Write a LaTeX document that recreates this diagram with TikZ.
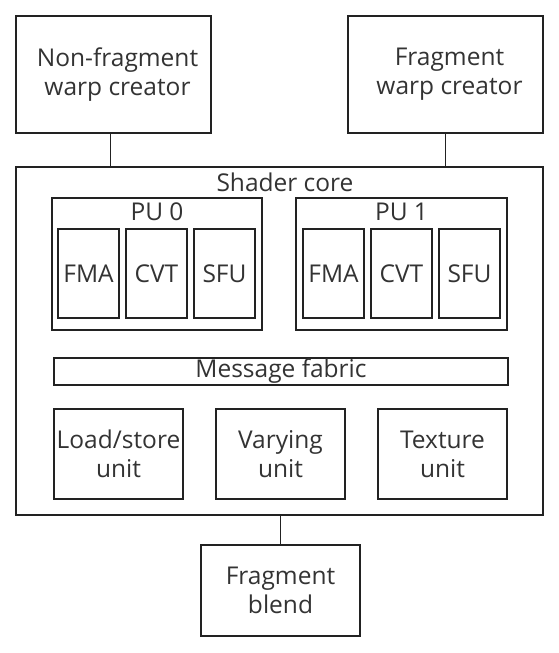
\documentclass[tikz,border=0pt]{standalone}
\usepackage{fontspec}
\setmainfont{Open Sans}
\definecolor{linec}{HTML}{222222}
\definecolor{textc}{HTML}{333333}
\begin{document}
\begin{tikzpicture}[x=1pt,y=-1pt,
  box/.style={draw=linec, line width=1.3pt, rectangle, inner sep=0pt, align=center,
    text=textc, font=\fontsize{24.5}{29}\selectfont},
  lbl/.style={inner sep=0pt, text=textc, font=\fontsize{24.5}{29}\selectfont},
  conn/.style={draw=linec, line width=1.3pt}]
\useasboundingbox (0,0) rectangle (559,653);
% top creators
\node[box, minimum width=195pt, minimum height=117pt] (nf) at (113.5,74.5) {\hspace*{8pt}Non-fragment\\\hspace*{8pt}warp creator};
\node[box, minimum width=195pt, minimum height=117pt] (fw) at (445.5,74.5) {\hspace*{8pt}Fragment\\\hspace*{8pt}warp creator};
% shader core
\node[box, minimum width=527pt, minimum height=348pt] (core) at (279.5,341) {};
\node[lbl] (corelbl) at (285,182) {Shader core};
% PU 0
\node[box, minimum width=210pt, minimum height=132pt] (pu0) at (157,264) {};
\node[lbl] (pu0lbl) at (157,212) {PU 0};
\node[box, minimum width=61pt, minimum height=89pt] (fma0) at (88.5,273.5) {FMA};
\node[box, minimum width=61pt, minimum height=89pt] (cvt0) at (156.5,273.5) {CVT};
\node[box, minimum width=61pt, minimum height=89pt] (sfu0) at (224.5,273.5) {SFU};
% PU 1
\node[box, minimum width=211pt, minimum height=132pt] (pu1) at (401.5,264) {};
\node[lbl] (pu1lbl) at (401.5,212) {PU 1};
\node[box, minimum width=61pt, minimum height=89pt] (fma1) at (333.5,273.5) {FMA};
\node[box, minimum width=61pt, minimum height=89pt] (cvt1) at (401.5,273.5) {CVT};
\node[box, minimum width=61pt, minimum height=89pt] (sfu1) at (469.5,273.5) {SFU};
% message fabric
\node[box, minimum width=454pt, minimum height=27pt] (mf) at (281,371.5) {Message fabric};
% units
\node[box, minimum width=129pt, minimum height=90pt] (ls) at (118.5,454) {Load/store\\unit};
\node[box, minimum width=129pt, minimum height=90pt] (vu) at (280.5,454) {Varying\\unit};
\node[box, minimum width=129pt, minimum height=90pt] (tu) at (442.5,454) {Texture\\unit};
% fragment blend
\node[box, minimum width=159pt, minimum height=91pt] (fb) at (280.5,590.5) {Fragment\\blend};
% connectors
\coordinate (c1) at ([xshift=-3pt]nf.south);
\draw[conn] (c1) -- (c1 |- core.north);
\draw[conn] (fw.south) -- (fw.south |- core.north);
\draw[conn] (fb.north) -- (fb.north |- core.south);
\end{tikzpicture}
\end{document}
